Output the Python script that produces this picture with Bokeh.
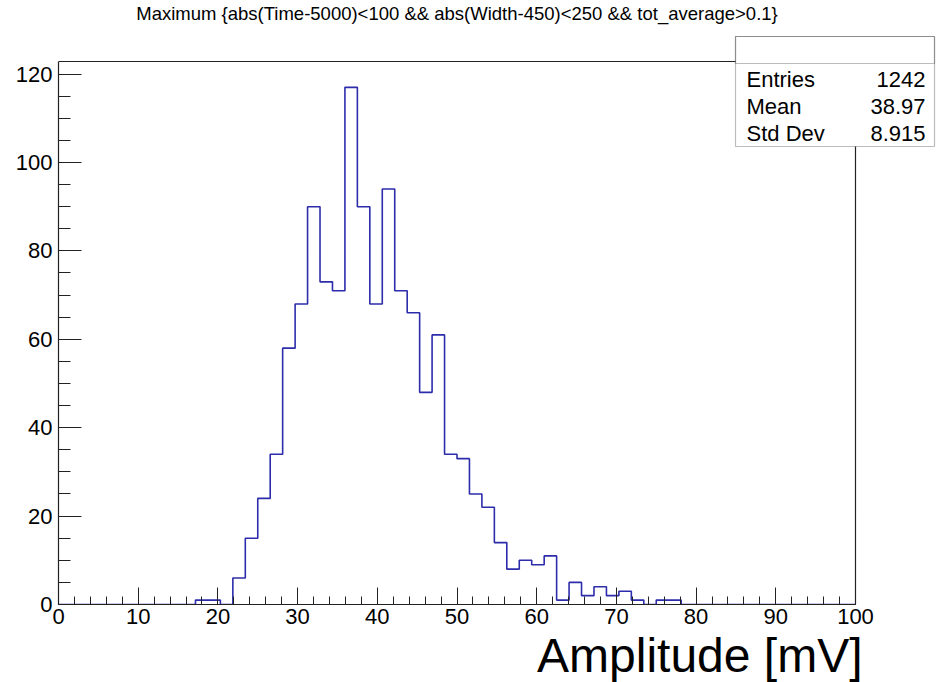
from bokeh.plotting import figure
from bokeh.models import Label, BoxAnnotation, SingleIntervalTicker, Range1d, Title
from bokeh.embed import file_html
from bokeh.resources import INLINE

# ---- data -------------------------------------------------------------
title_text = "Maximum {abs(Time-5000)<100 && abs(Width-450)<250 && tot_average>0.1}"
x_title = "Amplitude [mV]"
n_bins = 64
x_min, x_max = 0.0, 100.0
counts = [0, 0, 0, 0, 0, 0, 0, 0, 0, 0, 0,
          1, 1, 0, 6, 15, 24, 34, 58, 68, 90, 73, 71, 117, 90, 68, 94, 71, 66,
          48, 61, 34, 33, 25, 22, 14, 8, 10, 9, 11, 1, 5, 2, 4, 2, 3, 1, 0, 1, 1,
          0, 0, 0, 0, 0, 0, 0, 0, 0, 0, 0, 0, 0, 0]
stat_names = ["Entries", "Mean", "Std Dev"]
stat_values = ["1242", "38.97", "8.915"]

# ---- layout -----------------------------------------------------------
W, H = 939, 682
FL, FR, FT, FB = 58, 855, 61, 604          # ROOT pad frame edges in px
y_top = 1.05 * max(counts)

def cx(px):
    return x_min + (px - FL) / (FR - FL) * (x_max - x_min)

def cy(py):
    return (FB - py) / (FB - FT) * y_top

bin_w = (x_max - x_min) / n_bins
edges = [x_min + i * bin_w for i in range(n_bins + 1)]
step_y = counts + [counts[-1]]

# Bokeh frame reaches the right and top edges of the canvas; the axes are
# bounded to the histogram range so that the ROOT frame is reproduced.
p = figure(width=W, height=H, output_backend="svg", toolbar_location=None,
           x_range=Range1d(x_min, cx(W)), y_range=Range1d(0, cy(0)),
           min_border_left=FL, min_border_right=0,
           min_border_top=0, min_border_bottom=H - FB)
p.background_fill_color = "white"
p.border_fill_color = "white"
p.outline_line_color = None
p.xgrid.visible = False
p.ygrid.visible = False

FRAME_C = "#222222"
# right and top sides of the frame
p.line([x_max, x_max, x_min], [0, y_top, y_top], line_color=FRAME_C, line_width=1.2)

p.step(edges, step_y, mode="after", line_color="#2d2dab", line_width=1.6)

FONT = "Liberation Sans"
for ax in (p.xaxis[0], p.yaxis[0]):
    ax.axis_line_color = FRAME_C
    ax.axis_line_width = 1.2
    ax.major_tick_line_color = FRAME_C
    ax.minor_tick_line_color = FRAME_C
    ax.major_tick_out = 0
    ax.minor_tick_out = 0
    ax.major_label_text_font = FONT
    ax.major_label_text_font_size = "22px"
    ax.major_label_text_color = "black"

p.xaxis[0].ticker = SingleIntervalTicker(interval=10, num_minor_ticks=5)
p.xaxis[0].bounds = (x_min, x_max)
p.xaxis[0].major_tick_in = 17
p.xaxis[0].minor_tick_in = 8
p.xaxis[0].major_label_standoff = 4

p.yaxis[0].ticker = SingleIntervalTicker(interval=20, num_minor_ticks=4)
p.yaxis[0].bounds = (0, y_top)
p.yaxis[0].major_tick_in = 23
p.yaxis[0].minor_tick_in = 12
p.yaxis[0].major_label_standoff = 6

# x-axis title: large, right aligned, cut by the page bottom
p.add_layout(Title(text=x_title, align="right", text_font=FONT,
                   text_font_size="48px", text_font_style="normal",
                   text_color="black", standoff=1, offset=W - 862), "below")

# histogram title
p.add_layout(Label(x=cx(456.5), y=cy(13), text=title_text, text_align="center",
                   text_baseline="alphabetic", text_font=FONT,
                   text_font_size="18.5px", text_color="black"))

# stats box
BL, BR, BT, BD, BB = 735, 934, 36, 63, 146
p.add_layout(BoxAnnotation(left=cx(BL), right=cx(BR), top=cy(BT), bottom=cy(BB),
                           fill_color="white", fill_alpha=1.0,
                           line_color=FRAME_C, line_width=1.2, level="overlay"))
p.add_layout(BoxAnnotation(left=cx(BL), right=cx(BR), top=cy(BT), bottom=cy(BD),
                           fill_alpha=0.0, line_color=FRAME_C, line_width=1.2,
                           level="overlay"))
rows_y = [79, 106, 133]
for name, val, yy in zip(stat_names, stat_values, rows_y):
    p.add_layout(Label(x=cx(746), y=cy(yy), text=name, text_align="left",
                       text_baseline="alphabetic", text_font=FONT,
                       text_font_size="22px", text_color="black", level="overlay"))
    p.add_layout(Label(x=cx(925), y=cy(yy), text=val, text_align="right",
                       text_baseline="alphabetic", text_font=FONT,
                       text_font_size="22px", text_color="black", level="overlay"))

open("out.html", "w").write(file_html(p, INLINE))
